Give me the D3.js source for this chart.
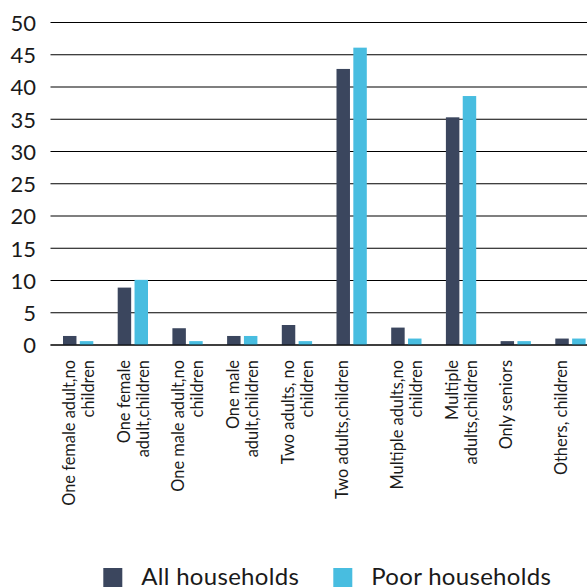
<!DOCTYPE html>
<html>
<head>
<meta charset="utf-8">
<script src="https://cdn.jsdelivr.net/npm/d3@7"></script>
<style>
  html, body { margin: 0; padding: 0; background: #fff; }
  svg { display: block; font-family: Lato, "Noto Sans", sans-serif; }
</style>
</head>
<body>
<svg id="chart" width="587" height="588"></svg>
<script>
// ---- data ----
const categories = [
  "One female adult,no|children",
  "One female|adult,children",
  "One male adult,no|children",
  "One male|adult,children",
  "Two adults, no|children",
  "Two adults,children",
  "Multiple adults,no|children",
  "Multiple|adults,children",
  "Only seniors",
  "Others, children"
];
const seriesNames = ["All households", "Poor households"];
const allHouseholds  = [1.4, 8.9, 2.6, 1.4, 3.1, 42.8, 2.7, 35.3, 0.6, 1.0];
const poorHouseholds = [0.6, 10.1, 0.6, 1.4, 0.6, 46.1, 1.0, 38.6, 0.6, 1.0];
const yTicks = [0, 5, 10, 15, 20, 25, 30, 35, 40, 45, 50];
const colors = ["#3b465e", "#48bde0"];

// ---- layout ----
const svg = d3.select("#chart");
const plotLeft = 50.5, plotRight = 597.5, plotTop = 22.5, plotBottom = 345;

const x0 = d3.scaleBand().domain(categories).range([plotLeft, plotRight]).paddingInner(0).paddingOuter(0);
const x1 = d3.scaleBand().domain(seriesNames).range([12.5, 42.8]).paddingInner(0.2).paddingOuter(0);
const y = d3.scaleLinear().domain([0, 50]).range([plotBottom, plotTop]);

// gridlines
svg.append("g").selectAll("line").data(yTicks).join("line")
  .attr("x1", plotLeft).attr("x2", 587)
  .attr("y1", d => y(d)).attr("y2", d => y(d))
  .attr("stroke", "#000").attr("stroke-width", 1.1);

// y axis labels
const yAxis = d3.axisLeft(y).tickValues(yTicks).tickSize(0).tickPadding(0);
const yg = svg.append("g").attr("transform", "translate(36,0)").call(yAxis);
yg.select(".domain").remove();
yg.selectAll("text").attr("font-size", 22).attr("fill", "#1a1a1a")
  .attr("font-family", "Lato, 'Noto Sans', sans-serif").attr("dy", "0.36em");

// bars
const rows = categories.map((c, i) => ({cat: c, vals: [allHouseholds[i], poorHouseholds[i]]}));
const groups = svg.append("g").selectAll("g").data(rows).join("g")
  .attr("transform", d => `translate(${x0(d.cat)},0)`);
groups.selectAll("rect").data(d => d.vals.map((v, j) => ({key: seriesNames[j], v, j}))).join("rect")
  .attr("x", d => x1(d.key))
  .attr("width", x1.bandwidth())
  .attr("y", d => y(d.v))
  .attr("height", d => y(0) - y(d.v))
  .attr("fill", d => colors[d.j]);

// redraw baseline over bars
svg.append("line").attr("x1", plotLeft).attr("x2", 587)
  .attr("y1", y(0)).attr("y2", y(0)).attr("stroke", "#000").attr("stroke-width", 1.1);

// category labels
const labelG = svg.append("g");
categories.forEach(c => {
  const cx = x0(c) + x0.bandwidth() / 2;
  const lines = c.split("|");
  const t = labelG.append("text")
    .attr("transform", `translate(${cx},360) rotate(-90)`)
    .attr("text-anchor", "end")
    .attr("font-size", 16.4)
    .attr("fill", "#1a1a1a");
  lines.forEach((ln, i) => {
    t.append("tspan").attr("x", 0).attr("y", -3 + i * 19).text(ln);
  });
});

// legend
const legend = svg.append("g");
seriesNames.forEach((name, i) => {
  const lx = 103.3 + i * 230;
  legend.append("rect").attr("x", lx).attr("y", 568).attr("width", 19).attr("height", 19).attr("fill", colors[i]);
  legend.append("text").attr("x", lx + 38).attr("y", 584.5)
    .attr("font-size", 24).attr("letter-spacing", 0.3).attr("fill", "#1a1a1a").text(name);
});
</script>
</body>
</html>
